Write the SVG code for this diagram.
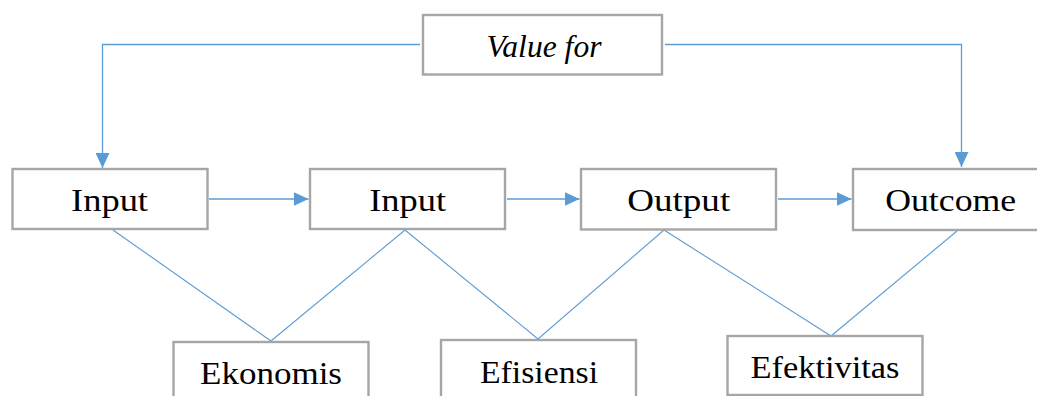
<svg xmlns="http://www.w3.org/2000/svg" width="1037" height="396" viewBox="0 0 1037 396">
  <style>
    .box { fill: #ffffff; stroke: #a6a6a6; stroke-width: 2.4; }
    .lbl { font-family: "Liberation Serif", "Times New Roman", serif; font-size: 32px; fill: #000000; text-anchor: middle; }
    .it { font-style: italic; }
    .flow { fill: none; stroke: #5b9bd5; stroke-width: 1.3; }
    .link { fill: none; stroke: #5b9bd5; stroke-width: 1.1; }
  </style>
  <defs>
    <marker id="arrow" markerUnits="userSpaceOnUse" markerWidth="16" markerHeight="14" refX="15" refY="7" orient="auto">
      <path d="M0,0 L15,7 L0,14 Z" fill="#5b9bd5"/>
    </marker>
  </defs>
  <rect width="1037" height="396" fill="#ffffff"/>

  <!-- connectors -->
  <g id="connectors">
    <path class="flow" d="M420,44.5 H102.5 V168" marker-end="url(#arrow)"/>
    <path class="flow" d="M665,44.5 H961.5 V167" marker-end="url(#arrow)"/>
    <path class="flow" d="M209,199 H308.5" marker-end="url(#arrow)"/>
    <path class="flow" d="M507,199 H579.5" marker-end="url(#arrow)"/>
    <path class="flow" d="M778,199 H851.5" marker-end="url(#arrow)"/>
    <path class="link" d="M113,230 L271,341 L405,230 L538,339 L664,230 L831,336 L957,231"/>
  </g>

  <g id="value-for">
    <rect class="box" x="423" y="15" width="239" height="59.5"/>
    <text class="lbl it" x="544" y="57" textLength="115" lengthAdjust="spacingAndGlyphs">Value for</text>
  </g>
  <g id="input-1">
    <rect class="box" x="12.5" y="169" width="195" height="60"/>
    <text class="lbl" x="109.5" y="211" textLength="77" lengthAdjust="spacingAndGlyphs">Input</text>
  </g>
  <g id="input-2">
    <rect class="box" x="310" y="169" width="195" height="60"/>
    <text class="lbl" x="407.7" y="211" textLength="77" lengthAdjust="spacingAndGlyphs">Input</text>
  </g>
  <g id="output">
    <rect class="box" x="581" y="169" width="195" height="60.5"/>
    <text class="lbl" x="678.7" y="211" textLength="103" lengthAdjust="spacingAndGlyphs">Output</text>
  </g>
  <g id="outcome">
    <rect class="box" x="853" y="169" width="196" height="61"/>
    <text class="lbl" x="950.7" y="211" textLength="131" lengthAdjust="spacingAndGlyphs">Outcome</text>
  </g>
  <g id="ekonomis">
    <rect class="box" x="173.5" y="342" width="195" height="70"/>
    <text class="lbl" x="271" y="384" textLength="142" lengthAdjust="spacingAndGlyphs">Ekonomis</text>
  </g>
  <g id="efisiensi">
    <rect class="box" x="441" y="340" width="195" height="70"/>
    <text class="lbl" x="539" y="383" textLength="118" lengthAdjust="spacingAndGlyphs">Efisiensi</text>
  </g>
  <g id="efektivitas">
    <rect class="box" x="727.5" y="336" width="195" height="59"/>
    <text class="lbl" x="825" y="378" textLength="149" lengthAdjust="spacingAndGlyphs">Efektivitas</text>
  </g>
</svg>
